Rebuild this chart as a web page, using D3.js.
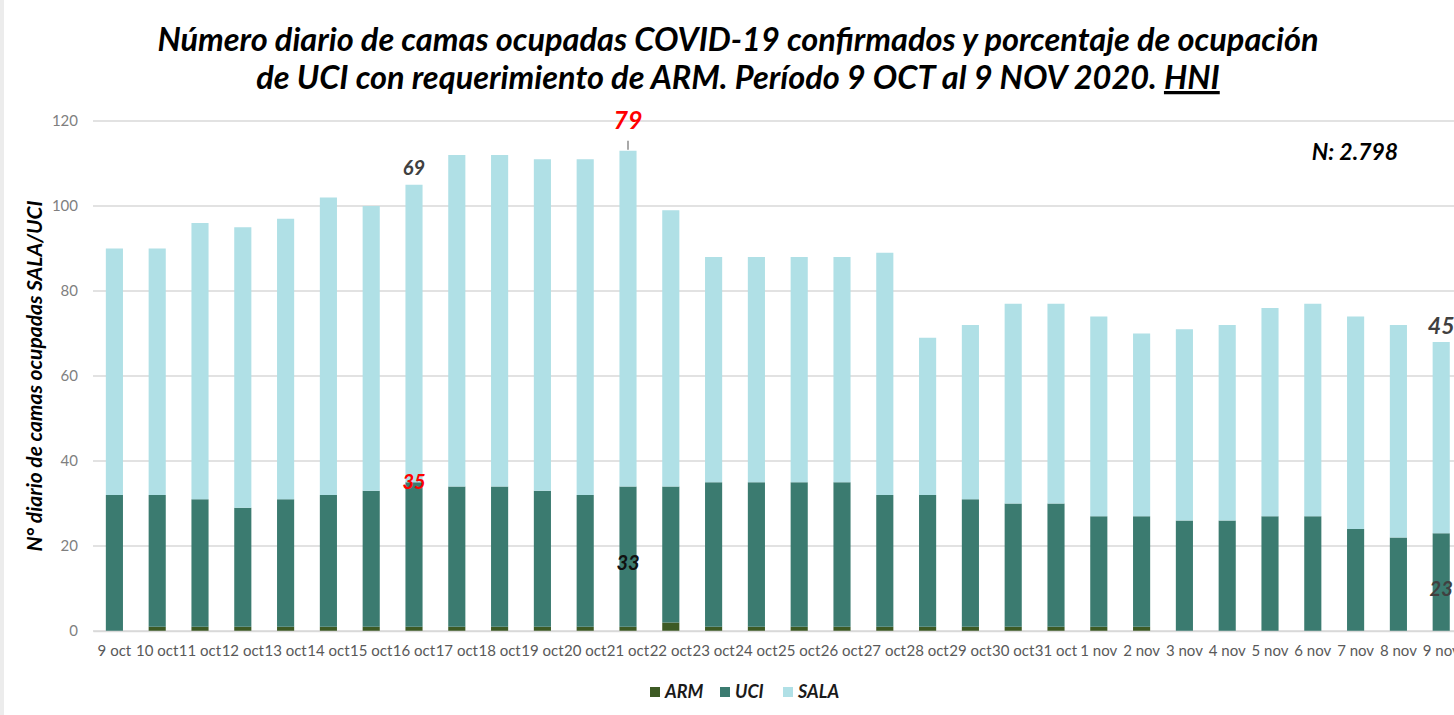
<!DOCTYPE html>
<html>
<head>
<meta charset="utf-8">
<script src="https://cdn.jsdelivr.net/npm/d3@7"></script>
<style>
  body { margin: 0; background: #fff; }
  svg { display: block; font-family: Lato, "Open Sans", sans-serif; }
</style>
</head>
<body>
<div id="chart"></div>
<script>
// days, 9 oct -> 9 nov
const days = ["9 oct","10 oct","11 oct","12 oct","13 oct","14 oct","15 oct","16 oct","17 oct","18 oct",
  "19 oct","20 oct","21 oct","22 oct","23 oct","24 oct","25 oct","26 oct","27 oct","28 oct","29 oct",
  "30 oct","31 oct","1 nov","2 nov","3 nov","4 nov","5 nov","6 nov","7 nov","8 nov","9 nov"];

// ARM beds (bottom segment)
const arm  = [0,1,1,1,1,1,1,1,1,1,1,1,1,2,1,1,1,1,1,1,1,1,1,1,1,0,0,0,0,0,0,0];
// UCI beds
const uci  = [32,31,30,28,30,31,32,34,33,33,32,31,33,32,34,34,34,34,31,31,30,29,29,26,26,26,26,27,27,24,22,23];
// SALA beds
const sala = [58,58,65,66,66,70,67,70,78,78,78,79,79,65,53,53,53,53,57,37,41,47,47,47,43,45,46,49,50,50,50,45];

const yTicks = [0,20,40,60,80,100,120];

// labels written on the chart
const notes = [
  {day: "16 oct", value: 69, text: "69", color: "#404040", size: 20, dy: -10, at: "top"},
  {day: "16 oct", value: 35, text: "35", color: "#ff0000", size: 20, dy: 7, at: "val"},
  {day: "21 oct", value: 79, text: "79", color: "#ff0000", size: 25, dy: -22, at: "top"},
  {day: "21 oct", value: 16, text: "33", color: "#111111", size: 20, dy: 7, at: "val"},
  {day: "9 nov",  value: 45, text: "45", color: "#404040", size: 23, dy: -8, at: "top"},
  {day: "9 nov",  value: 10, text: "23", color: "#404040", size: 20, dy: 7, at: "val"}
];

const width = 1454, height = 715;
const margin = {top: 121, bottom: 84, left: 93};

const svg = d3.select("#chart").append("svg")
    .attr("width", width)
    .attr("height", height);

// frame shadow at the left edge
svg.append("rect").attr("x", 0).attr("y", 0).attr("width", 4).attr("height", height).attr("fill", "#ececec");

const table = days.map((d, i) => ({day: d, ARM: arm[i], UCI: uci[i], SALA: sala[i]}));
const series = d3.stack().keys(["ARM", "UCI", "SALA"])(table);
const colors = {ARM: "#3d5a24", UCI: "#3b7b70", SALA: "#b0e0e6"};

const step = 42.8;
const x = d3.scaleBand()
    .domain(days)
    .range([margin.left, margin.left + step * days.length])
    .paddingInner(0.6)
    .paddingOuter(0.3);

const y = d3.scaleLinear()
    .domain([0, 120])
    .range([height - margin.bottom, margin.top]);

// gridlines
svg.append("g").selectAll("line")
    .data(yTicks)
    .join("line")
    .attr("x1", margin.left)
    .attr("x2", width)
    .attr("y1", d => y(d))
    .attr("y2", d => y(d))
    .attr("stroke", "#d9d9d9")
    .attr("stroke-width", 1.3);

// y tick labels
svg.append("g").selectAll("text")
    .data(yTicks)
    .join("text")
    .attr("x", 78)
    .attr("y", d => y(d))
    .attr("dy", "0.35em")
    .attr("text-anchor", "end")
    .attr("fill", "#7f7f7f")
    .attr("font-size", 15)
    .text(d => d);

// bars
svg.append("g").selectAll("g")
    .data(series)
    .join("g")
    .attr("fill", s => colors[s.key])
    .selectAll("rect")
    .data(s => s)
    .join("rect")
    .attr("x", d => x(d.data.day))
    .attr("width", x.bandwidth())
    .attr("y", d => y(d[1]))
    .attr("height", d => y(d[0]) - y(d[1]));

// x axis
const xAxis = svg.append("g")
    .attr("transform", `translate(0,${y(0)})`)
    .call(d3.axisBottom(x).tickSize(0).tickPadding(14));
xAxis.select(".domain").attr("stroke", "#d9d9d9").attr("stroke-width", 1.3);
xAxis.selectAll("text")
    .attr("fill", "#595959")
    .attr("font-size", 15)
    .attr("font-family", "Lato, sans-serif");

// annotations
const totals = table.map(d => d.ARM + d.UCI + d.SALA);
svg.append("g").selectAll("text")
    .data(notes)
    .join("text")
    .attr("x", d => x(d.day) + x.bandwidth() / 2)
    .attr("y", d => (d.at === "top" ? y(totals[days.indexOf(d.day)]) : y(d.value)) + d.dy)
    .attr("text-anchor", "middle")
    .attr("fill", d => d.color)
    .attr("font-size", d => d.size)
    .attr("font-weight", "bold")
    .attr("font-style", "italic")
    .text(d => d.text);

// leader line on 21 oct
const i21 = days.indexOf("21 oct");
svg.append("line")
    .attr("x1", x("21 oct") + x.bandwidth() / 2)
    .attr("x2", x("21 oct") + x.bandwidth() / 2)
    .attr("y1", y(totals[i21]) - 10)
    .attr("y2", y(totals[i21]) - 1)
    .attr("stroke", "#8c8c8c")
    .attr("stroke-width", 1.5);

// title
const title = svg.append("text")
    .attr("text-anchor", "middle")
    .attr("font-size", 32.5)
    .attr("font-weight", "bold")
    .attr("font-style", "italic")
    .attr("fill", "#000");
title.append("tspan").attr("x", 738).attr("y", 51)
    .text("Número diario de camas ocupadas COVID-19 confirmados y porcentaje de ocupación");
const t2 = title.append("tspan").attr("x", 738).attr("y", 89);
t2.append("tspan").text("de UCI con requerimiento de ARM. Período 9 OCT al 9 NOV 2020. ");
t2.append("tspan").attr("text-decoration", "underline").text("HNI");

// N
svg.append("text")
    .attr("x", 1355)
    .attr("y", 160)
    .attr("text-anchor", "middle")
    .attr("font-size", 23)
    .attr("font-weight", "bold")
    .attr("font-style", "italic")
    .text("N: 2.798");

// y axis title
svg.append("text")
    .attr("transform", `translate(42,${(y(0) + y(120)) / 2 + 0}) rotate(-90)`)
    .attr("text-anchor", "middle")
    .attr("font-size", 21)
    .attr("font-weight", "bold")
    .attr("font-style", "italic")
    .text("N° diario de camas ocupadas SALA/UCI");

// legend
const legendItems = [
  {key: "ARM", x: 650},
  {key: "UCI", x: 720},
  {key: "SALA", x: 783}
];
const lg = svg.append("g").selectAll("g")
    .data(legendItems)
    .join("g")
    .attr("transform", d => `translate(${d.x},687)`);
lg.append("rect")
    .attr("width", 10)
    .attr("height", 10)
    .attr("fill", d => colors[d.key]);
lg.append("text")
    .attr("x", 15)
    .attr("y", 5)
    .attr("dy", "0.36em")
    .attr("font-size", 18)
    .attr("font-weight", "bold")
    .attr("font-style", "italic")
    .attr("fill", "#1a1a1a")
    .text(d => d.key);
</script>
</body>
</html>
